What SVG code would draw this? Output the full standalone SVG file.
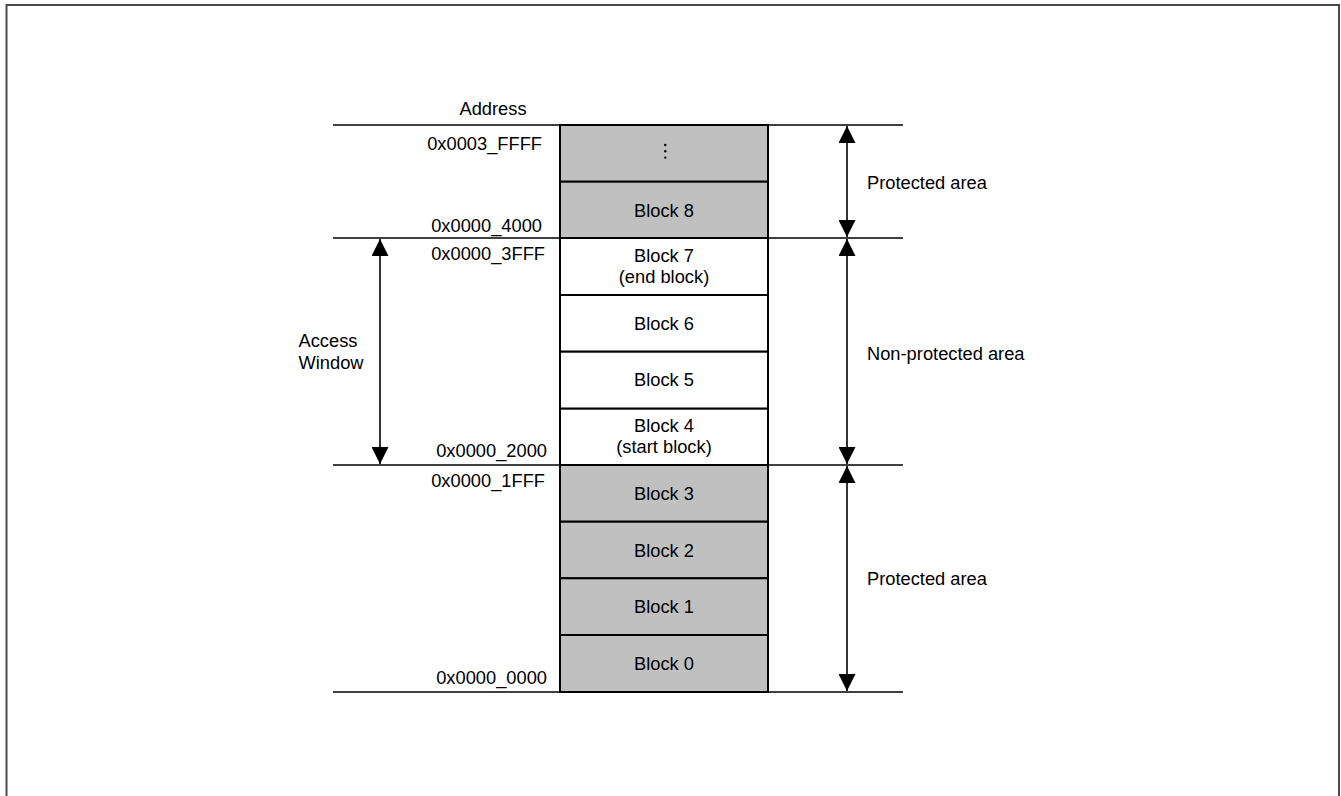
<svg xmlns="http://www.w3.org/2000/svg" width="1341" height="796" viewBox="0 0 1341 796">
<style>
text{font-family:"Liberation Sans",Arial,sans-serif;font-size:18.3px;fill:#000}
.c{text-anchor:middle}
.r{text-anchor:end}
.g{fill:#c0c0c0;stroke:#000;stroke-width:2}
.w{fill:#fff;stroke:#000;stroke-width:2}
.h{stroke:#000;stroke-width:1.6;fill:none}
.a{stroke:#000;stroke-width:1.6;fill:none;marker-start:url(#ah);marker-end:url(#ah)}
</style>
<defs>
<marker id="ah" viewBox="0 0 17 17" refX="17" refY="8.5" markerWidth="17" markerHeight="17" markerUnits="userSpaceOnUse" orient="auto-start-reverse">
<path d="M0,0 L17,8.5 L0,17 Z" fill="#000"/>
</marker>
</defs>
<rect width="1341" height="796" fill="#fff"/>
<path d="M6.5,800 V5 H1339 V800" fill="none" stroke="#4a4a4a" stroke-width="2"/>

<g id="blocks">
<g id="block-dots"><rect class="g" x="560" y="125" width="208" height="56.7"/><circle cx="665.3" cy="145" r="1.2"/><circle cx="665.3" cy="151.3" r="1.2"/><circle cx="665.3" cy="157.6" r="1.2"/></g>
<g id="block8"><rect class="g" x="560" y="181.7" width="208" height="56.3"/><text class="c" x="664" y="216.5">Block 8</text></g>
<g id="block7"><rect class="w" x="560" y="238" width="208" height="57"/><text class="c" x="664" y="262">Block 7</text><text class="c" x="664" y="283">(end block)</text></g>
<g id="block6"><rect class="w" x="560" y="295" width="208" height="56.7"/><text class="c" x="664" y="330">Block 6</text></g>
<g id="block5"><rect class="w" x="560" y="351.7" width="208" height="57"/><text class="c" x="664" y="386">Block 5</text></g>
<g id="block4"><rect class="w" x="560" y="408.7" width="208" height="56.3"/><text class="c" x="664" y="432">Block 4</text><text class="c" x="664" y="453">(start block)</text></g>
<g id="block3"><rect class="g" x="560" y="465" width="208" height="56.7"/><text class="c" x="664" y="500">Block 3</text></g>
<g id="block2"><rect class="g" x="560" y="521.7" width="208" height="56.6"/><text class="c" x="664" y="556.5">Block 2</text></g>
<g id="block1"><rect class="g" x="560" y="578.3" width="208" height="56.7"/><text class="c" x="664" y="613">Block 1</text></g>
<g id="block0"><rect class="g" x="560" y="635" width="208" height="57"/><text class="c" x="664" y="669.5">Block 0</text></g>
</g>

<g id="connectors">
<line class="h" x1="333" y1="125" x2="903" y2="125"/>
<line class="h" x1="333" y1="238" x2="903" y2="238"/>
<line class="h" x1="333" y1="465" x2="903" y2="465"/>
<line class="h" x1="333" y1="692" x2="903" y2="692"/>
<line class="a" x1="847" y1="126" x2="847" y2="237"/>
<line class="a" x1="847" y1="239" x2="847" y2="464"/>
<line class="a" x1="847" y1="466" x2="847" y2="691"/>
<line class="a" x1="380" y1="239" x2="380" y2="464"/>
</g>

<g id="labels">
<text class="c" x="493" y="115">Address</text>
<text class="r" x="542" y="150">0x0003_FFFF</text>
<text class="r" x="542" y="231.5">0x0000_4000</text>
<text class="r" x="545" y="260">0x0000_3FFF</text>
<text class="r" x="547" y="456.5">0x0000_2000</text>
<text class="r" x="545" y="487">0x0000_1FFF</text>
<text class="r" x="547" y="683.5">0x0000_0000</text>
<text x="298.5" y="347">Access</text>
<text x="298.5" y="369">Window</text>
<text x="867" y="189">Protected area</text>
<text x="867" y="360">Non-protected area</text>
<text x="867" y="585">Protected area</text>
</g>
</svg>
